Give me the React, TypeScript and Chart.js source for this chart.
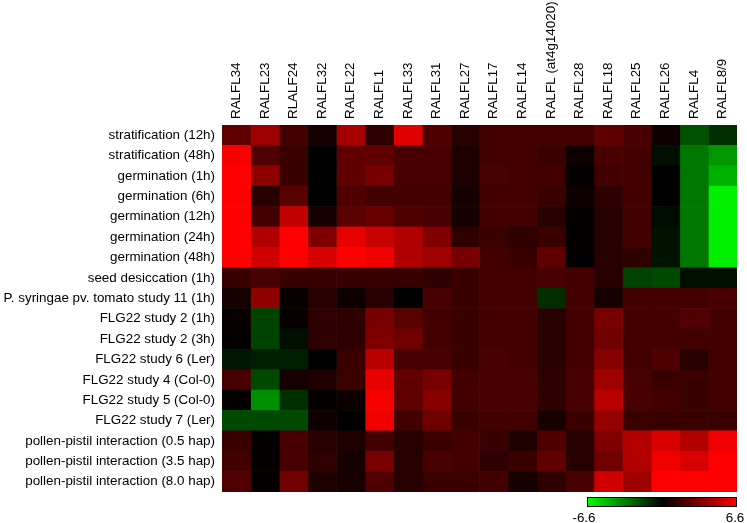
import React, { useEffect, useRef } from "react";
import { Chart, registerables } from "chart.js";

Chart.register(...registerables);

const columns = [
  "RALFL34", "RALFL23", "RLALF24", "RALFL32", "RALFL22", "RALFL1", "RALFL33", "RALFL31", "RALFL27",
  "RALFL17", "RALFL14", "RALFL (at4g14020)", "RALFL28", "RALFL18", "RALFL25", "RALFL26", "RALFL4", "RALFL8/9",
];

const rows = [
  "stratification (12h)",
  "stratification (48h)",
  "germination (1h)",
  "germination (6h)",
  "germination (12h)",
  "germination (24h)",
  "germination (48h)",
  "seed desiccation (1h)",
  "P. syringae pv. tomato study 11 (1h)",
  "FLG22 study 2 (1h)",
  "FLG22 study 2 (3h)",
  "FLG22 study 6 (Ler)",
  "FLG22 study 4 (Col-0)",
  "FLG22 study 5 (Col-0)",
  "FLG22 study 7 (Ler)",
  "pollen-pistil interaction (0.5 hap)",
  "pollen-pistil interaction (3.5 hap)",
  "pollen-pistil interaction (8.0 hap)",
];

// expression values (log ratio), one array per row, in column order
const stratification12h = [2.5, 4.1, 1.7, 0.6, 4.3, 1.2, 5.8, 2.1, 1.0, 1.7, 1.7, 1.7, 1.7, 2.5, 1.9, 0.4, -2.1, -1.2];
const stratification48h = [6.4, 2.1, 1.5, 0.0, 2.5, 2.5, 1.9, 1.9, 0.8, 1.7, 1.7, 1.5, 0.4, 1.9, 1.7, -0.4, -3.1, -3.9];
const germination1h = [6.6, 3.7, 1.5, 0.0, 2.5, 3.1, 1.9, 1.9, 0.8, 1.9, 1.7, 1.7, 0.1, 1.7, 1.7, 0.0, -3.1, -4.6];
const germination6h = [6.6, 1.0, 2.3, 0.0, 2.1, 1.7, 1.7, 1.7, 0.6, 1.7, 1.7, 1.5, 0.4, 1.2, 1.7, 0.0, -3.1, -6.2];
const germination12h = [6.6, 1.7, 5.0, 0.6, 2.3, 2.7, 2.1, 1.9, 0.6, 1.7, 1.7, 1.0, 0.1, 1.0, 1.7, -0.3, -3.1, -6.2];
const germination24h = [6.6, 4.6, 6.6, 3.3, 6.0, 5.2, 4.6, 3.3, 1.2, 1.5, 1.2, 1.5, 0.1, 1.0, 1.7, -0.5, -3.1, -6.2];
const germination48h = [6.6, 5.4, 6.6, 5.6, 6.6, 6.2, 4.6, 4.1, 3.1, 1.7, 1.5, 2.5, 0.05, 1.0, 1.2, -0.5, -3.1, -6.2];
const seedDesiccation1h = [1.5, 1.9, 1.5, 1.5, 1.5, 1.5, 1.5, 1.2, 1.5, 1.7, 1.7, 1.9, 1.7, 1.0, -1.7, -1.9, -0.4, -0.4];
const pSyringae11 = [0.6, 3.7, 0.2, 1.0, 0.3, 1.0, 0.0, 1.9, 1.5, 1.7, 1.7, -1.2, 1.7, 0.6, 1.7, 1.7, 1.7, 1.9];
const flg22Study2h1 = [0.2, -1.7, 0.2, 1.2, 1.2, 3.1, 2.3, 1.7, 1.5, 1.7, 1.7, 1.0, 1.7, 3.1, 1.7, 1.7, 2.1, 1.7];
const flg22Study2h3 = [0.1, -1.7, -0.4, 1.2, 1.2, 3.3, 2.9, 1.7, 1.5, 1.7, 1.7, 1.0, 1.7, 2.9, 1.7, 1.7, 1.7, 1.7];
const flg22Study6Ler = [-0.6, -0.8, -0.8, 0.0, 1.5, 4.8, 1.9, 1.9, 1.5, 1.9, 1.7, 1.0, 1.7, 3.5, 1.7, 2.1, 1.0, 1.7];
const flg22Study4Col = [1.9, -1.9, 0.6, 0.8, 1.5, 6.0, 2.5, 3.1, 1.7, 1.9, 1.9, 1.2, 1.9, 4.1, 1.9, 1.5, 1.5, 1.7];
const flg22Study5Col = [0.1, -3.7, -1.2, 0.1, 0.4, 6.4, 2.5, 3.5, 1.7, 1.9, 1.9, 1.2, 1.9, 4.8, 1.9, 1.7, 1.5, 1.7];
const flg22Study7Ler = [-1.9, -1.9, -1.9, 0.4, 0.0, 6.2, 1.7, 2.9, 1.5, 1.7, 1.7, 0.6, 1.5, 3.9, 1.5, 1.5, 1.5, 1.5];
const pollen05 = [1.5, 0.1, 1.9, 1.0, 0.8, 1.7, 1.0, 1.5, 1.7, 1.5, 0.8, 2.1, 1.0, 3.3, 4.6, 5.6, 4.6, 6.2];
const pollen35 = [1.7, 0.1, 1.9, 1.2, 0.6, 3.1, 1.0, 1.9, 1.7, 1.2, 1.5, 2.5, 1.0, 2.9, 4.6, 6.2, 5.6, 6.6];
const pollen80 = [2.1, 0.1, 2.9, 0.8, 0.6, 2.1, 1.0, 1.5, 1.5, 1.7, 0.6, 1.2, 1.9, 5.4, 4.1, 6.6, 6.6, 6.6];

const rowValues = [
  stratification12h, stratification48h, germination1h, germination6h, germination12h, germination24h,
  germination48h, seedDesiccation1h, pSyringae11, flg22Study2h1, flg22Study2h3, flg22Study6Ler,
  flg22Study4Col, flg22Study5Col, flg22Study7Ler, pollen05, pollen35, pollen80,
];

const scaleMin = -6.6;
const scaleMax = 6.6;
const scaleTickLabels = ["-6.6", "6.6"];

const FONT = "'Liberation Sans', Arial, sans-serif";
const FONT_SIZE = 13.4;

function colorFor(v: number): string {
  if (v >= 0) {
    const r = Math.round(Math.min(1, v / scaleMax) * 255);
    return `rgb(${r},0,0)`;
  }
  const g = Math.round(Math.min(1, v / scaleMin) * 255);
  return `rgb(0,${g},0)`;
}

const colorbarPlugin = {
  id: "colorbar",
  afterDraw(chart: any) {
    const { ctx, chartArea } = chart;
    const barW = 150;
    const barH = 10;
    const x1 = chartArea.right - barW;
    const y1 = chartArea.bottom + 5;
    ctx.save();
    const grad = ctx.createLinearGradient(x1, 0, x1 + barW, 0);
    grad.addColorStop(0, colorFor(scaleMin));
    grad.addColorStop(0.5, colorFor(0));
    grad.addColorStop(1, colorFor(scaleMax));
    ctx.fillStyle = grad;
    ctx.fillRect(x1, y1, barW, barH);
    ctx.strokeStyle = "#000";
    ctx.lineWidth = 1;
    ctx.strokeRect(x1 + 0.5, y1 + 0.5, barW - 1, barH - 1);
    ctx.fillStyle = "#000";
    ctx.font = `${FONT_SIZE}px ${FONT}`;
    ctx.textBaseline = "middle";
    ctx.textAlign = "center";
    ctx.fillText(scaleTickLabels[0], x1 - 3, y1 + barH + 11);
    ctx.fillText(scaleTickLabels[1], x1 + barW - 2, y1 + barH + 11);
    ctx.restore();
  },
};

export default function App() {
  const canvasRef = useRef<HTMLCanvasElement | null>(null);

  useEffect(() => {
    document.body.style.margin = "0";
    const canvas = canvasRef.current;
    if (!canvas) return;
    const datasets = columns.map((col, j) => ({
      label: col,
      data: rows.map(() => [j, j + 1]),
      backgroundColor: rows.map((_, i) => colorFor(rowValues[i][j])),
      borderWidth: 0,
      grouped: false,
      barPercentage: 1,
      categoryPercentage: 1,
    }));
    const chart = new Chart(canvas, {
      type: "bar",
      data: { labels: rows, datasets: datasets as any },
      options: {
        indexAxis: "y",
        animation: false,
        responsive: false,
        maintainAspectRatio: false,
        layout: { padding: { left: 0, right: 10, top: 0, bottom: 31 } },
        plugins: { legend: { display: false }, tooltip: { enabled: false } },
        scales: {
          x: {
            type: "linear",
            position: "top",
            min: 0,
            max: columns.length,
            grid: { display: false, drawTicks: false },
            border: { display: false },
            afterBuildTicks: (s: any) => {
              s.ticks = columns.map((_, j) => ({ value: j + 0.5 }));
            },
            afterFit: (s: any) => {
              s.height = 125;
            },
            ticks: {
              autoSkip: false,
              maxRotation: 90,
              minRotation: 90,
              padding: 6,
              labelOffset: 16,
              color: "#000",
              font: { family: FONT, size: FONT_SIZE },
              callback: (v: any) => columns[Math.floor(Number(v))],
            },
          },
          y: {
            type: "category",
            grid: { display: false, drawTicks: false },
            border: { display: false },
            afterFit: (s: any) => {
              s.width = 222;
            },
            ticks: {
              autoSkip: false,
              padding: 7,
              color: "#000",
              font: { family: FONT, size: FONT_SIZE },
            },
          },
        },
      },
      plugins: [colorbarPlugin],
    });
    return () => chart.destroy();
  }, []);

  return (
    <div style={{ position: "absolute", left: 0, top: 0, width: 747, height: 523, background: "#fff" }}>
      <canvas ref={canvasRef} width={747} height={523} />
    </div>
  );
}
